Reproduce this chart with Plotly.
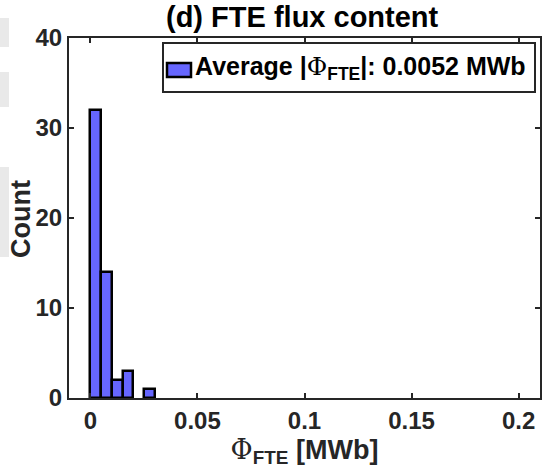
import plotly.graph_objects as go

# ---- data ----
bin_edges = [0.0, 0.005, 0.010, 0.015, 0.020, 0.025, 0.030]
counts = [32, 14, 2, 3, 0, 1]
x_ticks = [0, 0.05, 0.1, 0.15, 0.2]
x_tick_labels = ["0", "0.05", "0.1", "0.15", "0.2"]
y_ticks = [0, 10, 20, 30, 40]
y_tick_labels = ["0", "10", "20", "30", "40"]
title_text = "(d) FTE flux content"
PHI = "<span style='font-family:DejaVu Serif;font-weight:normal'>Φ</span>"
legend_text = "Average |" + PHI + "<sub>FTE</sub>|: 0.0052 MWb"
x_title = PHI + "<sub>FTE</sub> [MWb]"
y_title = "Count"

# ---- layout geometry (pixels) ----
W, H = 544, 471
L, R, T, B = 69, 4, 38, 73
PW, PH = W - L - R, H - T - B

def px(x):
    return (x - L) / PW

def py(y):
    return (H - B - y) / PH

centers = []
widths = []
vals = []
for i, c in enumerate(counts):
    if c > 0:
        centers.append((bin_edges[i] + bin_edges[i + 1]) / 2)
        widths.append(bin_edges[i + 1] - bin_edges[i])
        vals.append(c)

AX = "#262626"
FONT = "Liberation Sans"

fig = go.Figure()
fig.add_trace(go.Bar(
    x=centers, y=vals, width=widths,
    marker=dict(color="#6666FF", line=dict(color="black", width=2.5)),
    showlegend=False, name="Average |Φ<sub>FTE</sub>|",
))

axis_common = dict(
    ticks="inside", ticklen=5, tickwidth=2, tickcolor=AX,
    showline=True, linewidth=2, linecolor=AX, mirror="ticks",
    showgrid=False, zeroline=False,
    tickfont=dict(family=FONT, size=24, color="#262626", weight="bold"),
)

fig.update_layout(
    width=W, height=H,
    margin=dict(l=L, r=R, t=T, b=B, autoexpand=False),
    paper_bgcolor="white", plot_bgcolor="white",
    xaxis=dict(range=[-0.01, 0.21], tickvals=x_ticks, ticktext=x_tick_labels,
               title=dict(text=x_title, font=dict(family=FONT, size=27, color="#262626", weight="bold"), standoff=2),
               **axis_common),
    yaxis=dict(range=[0, 40], tickvals=y_ticks, ticktext=y_tick_labels,
               **axis_common),
    bargap=0,
    showlegend=False,
)

shapes = []
# light gray artifacts at left edge
for (y0, y1) in [(18, 47), (72, 107), (167, 257)]:
    shapes.append(dict(type="rect", xref="paper", yref="paper",
                       x0=px(0), x1=px(9), y0=py(y1), y1=py(y0),
                       fillcolor="#e9e9e9", line=dict(width=0), layer="below"))
# legend box
shapes.append(dict(type="rect", xref="paper", yref="paper",
                   x0=px(163), x1=px(535), y0=py(92), y1=py(43),
                   fillcolor="white", line=dict(color=AX, width=2)))
# legend swatch
shapes.append(dict(type="rect", xref="paper", yref="paper",
                   x0=px(167), x1=px(191), y0=py(77), y1=py(63),
                   fillcolor="#6666FF", line=dict(color="black", width=2.5)))
fig.update_layout(shapes=shapes)

fig.add_annotation(text=legend_text, xref="paper", yref="paper",
                   x=px(193), y=py(68), xanchor="left", yanchor="middle",
                   showarrow=False,
                   font=dict(family=FONT, size=25, color="black", weight="bold"))
fig.add_annotation(text=title_text, xref="paper", yref="paper",
                   x=px(302), y=py(17), xanchor="center", yanchor="middle",
                   showarrow=False,
                   font=dict(family=FONT, size=29, color="black", weight="bold"))
fig.add_annotation(text=y_title, xref="paper", yref="paper",
                   x=px(21), y=py(219), xanchor="center", yanchor="middle",
                   textangle=-90, showarrow=False,
                   font=dict(family=FONT, size=27, color="#262626", weight="bold"))

fig.write_html("out.html")
